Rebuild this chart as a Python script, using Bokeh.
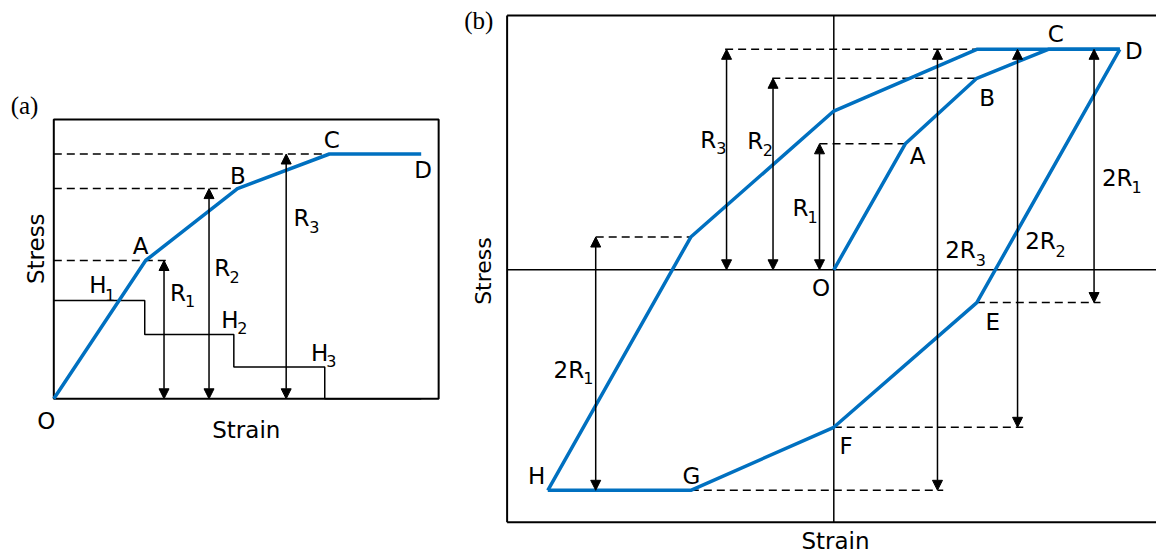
from bokeh.plotting import figure
from bokeh.models import Range1d, ColumnDataSource, Arrow, NormalHead
from bokeh.core.properties import value
from bokeh.embed import file_html
from bokeh.resources import INLINE

# ---------------- panel (a): monotonic loading with stepped hardening moduli ----------------
a_strain = [0, 1, 2, 3, 4]
a_stress = [0.0, 1.0, 1.52, 1.77, 1.77]
a_step_strain = [0, 0.99, 1.96, 2.95, 4]
a_step_level = [0.71, 0.465, 0.23, 0.0, 0.0]
a_arrow_strain = [1.2, 1.69, 2.53]          # R1, R2, R3 markers
a_arrow_top = [1.0, 1.52, 1.77]
a_dash_end = [1.27, 2.0, 3.0]
a_dash_level = [1.0, 1.52, 1.77]

# ---------------- panel (b): cyclic loop (Masing type) ----------------
b_load_strain = [0, 1, 2, 3, 4]
b_load_stress = [0.0, 1.0, 1.52, 1.75, 1.75]
b_unload_strain = [4, 2, 0, -2, -4]
b_unload_stress = [1.75, -0.26, -1.25, -1.75, -1.75]
b_reload_strain = [-4, -2, 0, 2, 4]
b_reload_stress = [-1.75, 0.26, 1.26, 1.75, 1.75]

b_r_strain = [-1.5, -0.85, -0.2]            # R3, R2, R1
b_r_top = [1.75, 1.52, 1.0]
b_2r_strain = [-3.33, 3.64, 2.57, 1.45]     # 2R1 (left), 2R1, 2R2, 2R3
b_2r_from = [-1.75, 1.75, 1.75, 1.75]
b_2r_to = [0.26, -0.26, -1.25, -1.75]
b_dash_x0 = [-1.52, -0.86, -0.2, -3.33, 2.0, 0.0, -2.0]
b_dash_x1 = [2.0, 2.0, 1.0, -2.0, 3.73, 2.65, 1.53]
b_dash_y = [1.75, 1.52, 1.0, 0.26, -0.26, -1.25, -1.75]

BLUE = "#0070C0"
FONT = "DejaVu Sans"
SERIF = "Liberation Serif"
W, H = 1156, 559

# canvas-wide ranges for each panel: (origin pixel, pixels per unit)
def span(origin_px, per_unit, total, flip=False):
    if flip:
        return Range1d((origin_px - total) / per_unit, origin_px / per_unit)
    return Range1d(-origin_px / per_unit, (total - origin_px) / per_unit)

p = figure(width=W, height=H, output_backend="svg", toolbar_location=None,
           x_axis_location=None, y_axis_location=None, min_border=0,
           x_range=span(833.3, 71.5, W), y_range=span(269.3, 126.0, H, flip=True))
p.extra_x_ranges = {"a": span(53.3, 91.85, W)}
p.extra_y_ranges = {"a": span(398.3, 138.3, H, flip=True)}
p.grid.visible = False
p.outline_line_color = None
p.background_fill_color = "white"
p.border_fill_color = "white"

A = dict(x_range_name="a", y_range_name="a")

# ---- panel (a) ----
p.quad(left=0, right=4.19, bottom=0, top=2.02, fill_color=None,
       line_color="black", line_width=2, **A)
p.segment(x0=[0] * 3, y0=a_dash_level, x1=a_dash_end, y1=a_dash_level,
          line_color="black", line_width=1.5, line_dash="8 5", **A)
p.step(x=a_step_strain, y=a_step_level, mode="after",
       line_color="black", line_width=1.5, **A)
p.line(x=a_strain, y=a_stress, line_color=BLUE, line_width=3.5, **A)

head = dict(size=10, line_color="black", fill_color="black", line_width=1)
p.add_layout(Arrow(start=NormalHead(**head), end=NormalHead(**head),
                   x_start="x", y_start="y0", x_end="x", y_end="y1",
                   line_width=1.5, line_color="black",
                   source=ColumnDataSource(dict(x=a_arrow_strain, y0=[0] * 3, y1=a_arrow_top)),
                   **A))

# ---- panel (b) ----
p.multi_line(xs=[[-4.569, -4.569], [-4.569, 4.6], [-4.569, 4.6]],
             ys=[[-2.003, 2.018], [2.018, 2.018], [-2.003, -2.003]],
             line_color="black", line_width=2)
p.multi_line(xs=[[-4.569, 4.6], [0, 0]], ys=[[0, 0], [-2.003, 2.018]],
             line_color="black", line_width=1.5)
p.segment(x0=b_dash_x0, y0=b_dash_y, x1=b_dash_x1, y1=b_dash_y,
          line_color="black", line_width=1.5, line_dash="8 5")
p.line(x=b_load_strain, y=b_load_stress, line_color=BLUE, line_width=3.5)
p.line(x=b_unload_strain, y=b_unload_stress, line_color=BLUE, line_width=3.5)
p.line(x=b_reload_strain, y=b_reload_stress, line_color=BLUE, line_width=3.5)

p.add_layout(Arrow(start=NormalHead(**head), end=NormalHead(**head),
                   x_start="x", y_start="y0", x_end="x", y_end="y1",
                   line_width=1.5, line_color="black",
                   source=ColumnDataSource(dict(x=b_r_strain, y0=[0] * 3, y1=b_r_top))))
p.add_layout(Arrow(start=NormalHead(**head), end=NormalHead(**head),
                   x_start="x", y_start="y0", x_end="x", y_end="y1",
                   line_width=1.5, line_color="black",
                   source=ColumnDataSource(dict(x=b_2r_strain, y0=b_2r_from, y1=b_2r_to))))

# ---- text ----
def labels(xs, ys, texts, size, font=FONT, angle=0.0, rng=None):
    kw = dict(x_range_name=rng, y_range_name=rng) if rng else {}
    p.text(x=xs, y=ys, text=texts, text_font=value(font), text_font_size=size,
           text_align="center", text_baseline="middle", text_color="black",
           angle=angle, **kw)

# panel (a) letters
labels([0.944, 2.005, 3.027, 4.020, -0.082, 2.096, 0.481, 1.918, 2.895, 1.352, 1.833, 2.697],
       [1.108, 1.611, 1.868, 1.651, -0.157, -0.222, 0.825, 0.572, 0.331, 0.765, 0.946, 1.307],
       ["A", "B", "C", "D", "O", "Strain", "H", "H", "H", "R", "R", "R"], "23px", rng="a")
labels([0.612, 2.054, 3.023, 1.485, 1.967, 2.836],
       [0.754, 0.512, 0.275, 0.705, 0.879, 1.241],
       ["1", "2", "3", "1", "2", "3"], "16px", rng="a")
labels([-0.199], [1.085], ["Stress"], "23px", angle=1.5708, rng="a")
labels([-0.319], [2.121], ["(a)"], "25px", font=SERIF, rng="a")

# panel (b) letters
labels([1.171, 2.145, 3.105, 4.196, -0.179, 2.222, 0.171, -1.990, -4.155, 0.024,
        -1.757, -1.099, -0.466, 3.964, 1.772, 2.891, -3.706],
       [0.907, 1.360, 1.869, 1.733, -0.144, -0.418, -1.397, -1.635, -1.635, -2.156,
        1.033, 1.020, 0.488, 0.729, 0.156, 0.226, -0.797],
       ["A", "B", "C", "D", "O", "E", "F", "G", "H", "Strain",
        "R", "R", "R", "2R", "2R", "2R", "2R"], "23px")
labels([-1.573, -0.924, -0.298, 4.236, 2.056, 3.171, -3.434],
       [0.964, 0.947, 0.421, 0.659, 0.076, 0.151, -0.859],
       ["3", "2", "1", "1", "3", "2", "1"], "16px")
labels([-4.899], [-0.010], ["Stress"], "22px", angle=1.5708)
labels([-4.965], [1.979], ["(b)"], "25px", font=SERIF)

open("out.html", "w").write(file_html(p, INLINE))
